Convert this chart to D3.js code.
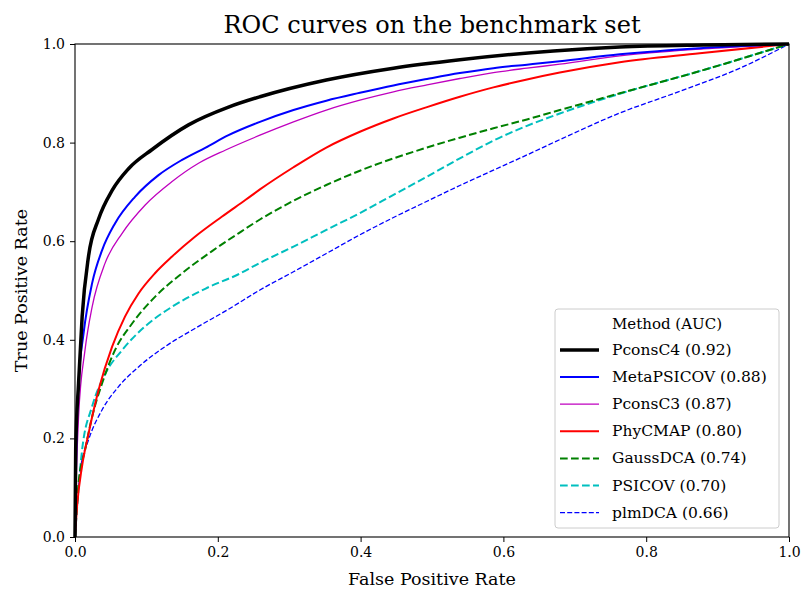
<!DOCTYPE html>
<html>
<head>
<meta charset="utf-8">
<script src="https://cdn.jsdelivr.net/npm/d3@7"></script>
<style>
  body { margin: 0; background: #fff; }
  svg text { font-family: "DejaVu Serif", "Liberation Serif", serif; fill: #000; }
</style>
</head>
<body>
<div class="container"></div>
<script>
var width = 803;
var height = 596;
var margin = {top: 44, right: 14, bottom: 59, left: 75};

// ROC curves (false positive rate / true positive rate)
var methods = ["PconsC4", "MetaPSICOV", "PconsC3", "PhyCMAP", "GaussDCA", "PSICOV", "plmDCA"];
var aucs = ["0.92", "0.88", "0.87", "0.80", "0.74", "0.70", "0.66"];

var pconsc4Fpr = [0, 0.001, 0.005, 0.010, 0.019, 0.033, 0.052, 0.075, 0.108, 0.159, 0.215, 0.259, 0.352, 0.446, 0.539, 0.67, 0.763, 0.88, 1];
var pconsc4Tpr = [0, 0.18, 0.312, 0.447, 0.570, 0.645, 0.703, 0.747, 0.786, 0.836, 0.872, 0.893, 0.927, 0.951, 0.968, 0.986, 0.994, 0.998, 1];

var metaFpr = [0, 0.002, 0.005, 0.012, 0.024, 0.038, 0.056, 0.084, 0.117, 0.150, 0.183, 0.215, 0.259, 0.306, 0.352, 0.399, 0.446, 0.493, 0.539, 0.586, 0.633, 0.679, 0.763, 0.88, 1];
var metaTpr = [0, 0.20, 0.312, 0.413, 0.515, 0.582, 0.636, 0.690, 0.734, 0.765, 0.790, 0.815, 0.842, 0.866, 0.885, 0.901, 0.916, 0.929, 0.941, 0.951, 0.958, 0.965, 0.979, 0.992, 1];

var pconsc3Fpr = [0, 0.002, 0.005, 0.014, 0.024, 0.042, 0.066, 0.098, 0.136, 0.173, 0.211, 0.259, 0.306, 0.352, 0.399, 0.446, 0.493, 0.539, 0.586, 0.633, 0.679, 0.763, 0.88, 1];
var pconsc3Tpr = [0, 0.13, 0.244, 0.379, 0.467, 0.555, 0.616, 0.673, 0.721, 0.758, 0.785, 0.815, 0.842, 0.866, 0.886, 0.903, 0.917, 0.930, 0.942, 0.951, 0.959, 0.976, 0.990, 1];

var phycmapFpr = [0, 0.0028, 0.0098, 0.019, 0.033, 0.052, 0.070, 0.089, 0.112, 0.136, 0.168, 0.206, 0.239, 0.259, 0.306, 0.352, 0.399, 0.446, 0.493, 0.539, 0.586, 0.633, 0.679, 0.763, 0.875, 1];
var phycmapTpr = [0, 0.061, 0.143, 0.210, 0.298, 0.386, 0.447, 0.494, 0.535, 0.569, 0.609, 0.650, 0.684, 0.705, 0.750, 0.790, 0.822, 0.849, 0.872, 0.893, 0.912, 0.928, 0.942, 0.963, 0.981, 1];

var gaussFpr = [0, 0.005, 0.014, 0.024, 0.038, 0.056, 0.080, 0.112, 0.150, 0.192, 0.229, 0.259, 0.306, 0.352, 0.399, 0.446, 0.493, 0.539, 0.586, 0.633, 0.679, 0.763, 0.875, 1];
var gaussTpr = [0, 0.109, 0.176, 0.244, 0.312, 0.379, 0.433, 0.487, 0.535, 0.580, 0.616, 0.644, 0.682, 0.714, 0.743, 0.768, 0.790, 0.810, 0.829, 0.847, 0.866, 0.900, 0.945, 1];

var psicovFpr = [0, 0.0098, 0.024, 0.042, 0.066, 0.098, 0.136, 0.183, 0.229, 0.259, 0.306, 0.352, 0.399, 0.446, 0.493, 0.539, 0.586, 0.633, 0.679, 0.763, 0.875, 1];
var psicovTpr = [0, 0.175, 0.265, 0.330, 0.379, 0.427, 0.467, 0.504, 0.533, 0.556, 0.589, 0.623, 0.657, 0.694, 0.731, 0.768, 0.804, 0.834, 0.859, 0.899, 0.945, 1];

var plmFpr = [0, 0.0075, 0.019, 0.038, 0.061, 0.089, 0.126, 0.168, 0.215, 0.259, 0.306, 0.352, 0.399, 0.446, 0.493, 0.539, 0.586, 0.633, 0.679, 0.763, 0.843, 0.936, 1];
var plmTpr = [0, 0.136, 0.197, 0.258, 0.305, 0.345, 0.386, 0.423, 0.462, 0.501, 0.538, 0.575, 0.613, 0.648, 0.681, 0.713, 0.744, 0.775, 0.806, 0.860, 0.902, 0.954, 1];

var tickValues = [0, 0.2, 0.4, 0.6, 0.8, 1.0];

// styles, in legend order
var colors = ["#000000", "#0000ff", "#bf00bf", "#ff0000", "#008000", "#00bfbf", "#0000ff"];
var widths = [3.5, 2, 1.3, 2, 2, 2, 1.3];
var dashes = [null, null, null, null, "7.7,3.3", "7.7,3.3", "5,2.2"];

var curves = [
  [pconsc4Fpr, pconsc4Tpr], [metaFpr, metaTpr], [pconsc3Fpr, pconsc3Tpr],
  [phycmapFpr, phycmapTpr], [gaussFpr, gaussTpr], [psicovFpr, psicovTpr], [plmFpr, plmTpr]
];

var xScale = d3.scaleLinear().domain([0, 1]).range([margin.left, width - margin.right]);
var yScale = d3.scaleLinear().domain([0, 1]).range([height - margin.bottom, margin.top]);

var svg = d3.select(".container").append("svg")
  .attr("width", width).attr("height", height);

svg.append("clipPath").attr("id", "plot-clip")
  .append("rect")
  .attr("x", margin.left - 2).attr("y", margin.top - 2)
  .attr("width", width - margin.left - margin.right + 4)
  .attr("height", height - margin.top - margin.bottom + 4);

var line = d3.line()
  .x(d => xScale(d[0]))
  .y(d => yScale(d[1]))
  .curve(d3.curveMonotoneX);

// draw last series first so PconsC4 ends on top
var order = d3.range(curves.length).reverse();
svg.append("g").attr("clip-path", "url(#plot-clip)")
  .selectAll("path")
  .data(order)
  .enter()
  .append("path")
  .attr("d", i => line(curves[i][0].map((f, k) => [f, curves[i][1][k]])))
  .attr("fill", "none")
  .attr("stroke", i => colors[i])
  .attr("stroke-width", i => widths[i])
  .attr("stroke-dasharray", i => dashes[i])
  .attr("stroke-linejoin", "round");

// axes
var fmt = d3.format(".1f");
var xAxis = d3.axisBottom(xScale).tickValues(tickValues).tickFormat(fmt).tickSize(5).tickPadding(5);
var yAxis = d3.axisLeft(yScale).tickValues(tickValues).tickFormat(fmt).tickSize(5).tickPadding(5);

svg.append("g").attr("id", "x-axis")
  .attr("transform", "translate(0," + (height - margin.bottom) + ")")
  .call(xAxis);
svg.append("g").attr("id", "y-axis")
  .attr("transform", "translate(" + margin.left + ",0)")
  .call(yAxis);

svg.selectAll("#x-axis, #y-axis").selectAll(".domain").remove();
svg.selectAll(".tick line").attr("stroke", "#000").attr("stroke-width", 1);
svg.selectAll(".tick text").style("font-size", "14px").style("font-family", "'DejaVu Serif', serif");

// frame
svg.append("rect")
  .attr("x", margin.left).attr("y", margin.top)
  .attr("width", width - margin.left - margin.right)
  .attr("height", height - margin.top - margin.bottom)
  .attr("fill", "none").attr("stroke", "#000").attr("stroke-width", 1.1);

// title & axis labels
svg.append("text")
  .attr("x", (margin.left + width - margin.right) / 2).attr("y", 33)
  .attr("text-anchor", "middle").style("font-size", "24px")
  .text("ROC curves on the benchmark set");

svg.append("text")
  .attr("x", (margin.left + width - margin.right) / 2).attr("y", 585)
  .attr("text-anchor", "middle").style("font-size", "17.5px")
  .text("False Positive Rate");

svg.append("text")
  .attr("transform", "translate(27," + (margin.top + height - margin.bottom) / 2 + ") rotate(-90)")
  .attr("text-anchor", "middle").style("font-size", "17.5px")
  .text("True Positive Rate");

// legend
var legend = svg.append("g").attr("id", "legend");
legend.append("rect")
  .attr("x", 555).attr("y", 309).attr("width", 224).attr("height", 219)
  .attr("rx", 3).attr("fill", "#fff").attr("fill-opacity", 0.8)
  .attr("stroke", "#cccccc").attr("stroke-width", 1);

legend.append("text")
  .attr("x", 667).attr("y", 329)
  .attr("text-anchor", "middle").style("font-size", "15px")
  .text("Method (AUC)");

var rows = legend.selectAll(".row")
  .data(methods)
  .enter()
  .append("g").attr("class", "row")
  .attr("transform", (d, i) => "translate(0," + (350 + i * 27.1) + ")");

rows.append("line")
  .attr("x1", 560).attr("x2", 599)
  .attr("stroke", (d, i) => colors[i])
  .attr("stroke-width", (d, i) => widths[i])
  .attr("stroke-dasharray", (d, i) => dashes[i]);

rows.append("text")
  .attr("x", 612).attr("y", 5)
  .style("font-size", "15.5px")
  .text((d, i) => d + " (" + aucs[i] + ")");
</script>
</body>
</html>
